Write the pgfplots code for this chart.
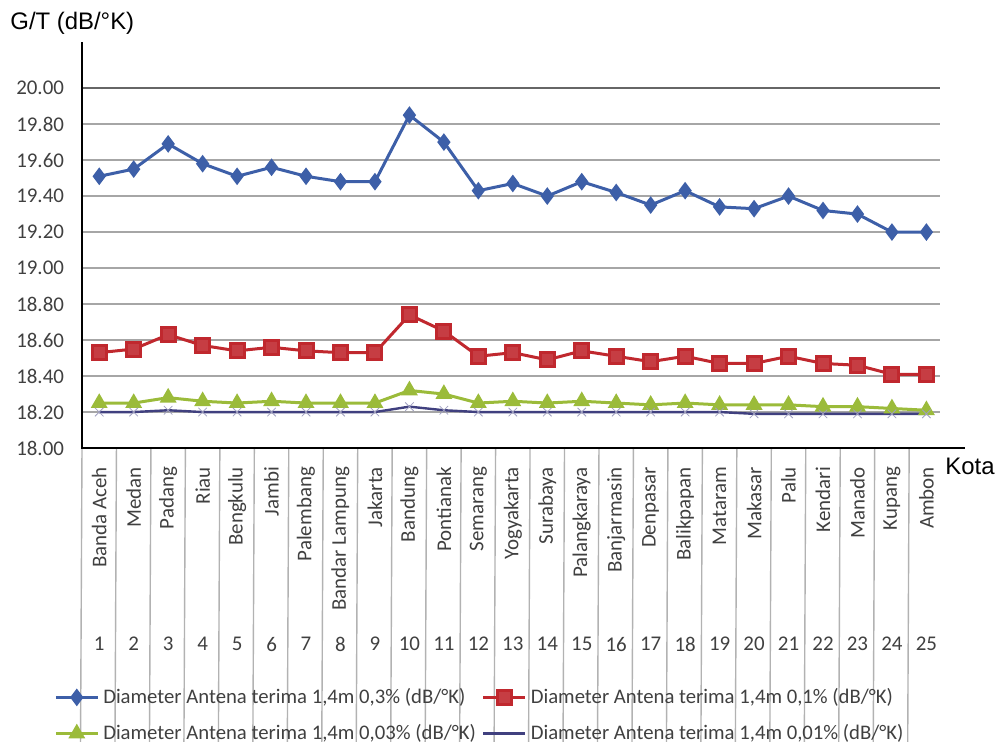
\documentclass[border=0pt]{standalone}
\usepackage{pgfplots}
\pgfplotsset{compat=1.18}
\usepackage{fontspec}
\setmainfont{Carlito}
\newfontfamily\arial{Liberation Sans}
\definecolor{sblue}{HTML}{3D5FA8}
\definecolor{sred}{HTML}{C0282E}
\definecolor{sgreen}{HTML}{9BBB3A}
\definecolor{spurple}{HTML}{40407F}
\definecolor{ticktext}{HTML}{404040}
\definecolor{gridc}{HTML}{A6A6A6}
\begin{document}
\begin{tikzpicture}
\begin{axis}[
  at={(0,0)}, anchor=south west,
  scale only axis, width=441.5bp, height=203bp,
  xmin=0.5, xmax=26.12, ymin=18, ymax=20.256,
  axis line style={draw=none},
  major tick length=0,
  clip=false,
  ytick={18,18.2,18.4,18.6,18.8,19,19.2,19.4,19.6,19.8,20},
  yticklabels={18.00,18.20,18.40,18.60,18.80,19.00,19.20,19.40,19.60,19.80,20.00},
  yticklabel style={font=\fontsize{10.5}{12}\selectfont, text=ticktext, xshift=-5.5bp},
  xtick={1,...,25},
  xticklabels={Banda Aceh,Medan,Padang,Riau,Bengkulu,Jambi,Palembang,Bandar Lampung,Jakarta,Bandung,Pontianak,Semarang,Yogyakarta,Surabaya,Palangkaraya,Banjarmasin,Denpasar,Balikpapan,Mataram,Makasar,Palu,Kendari,Manado,Kupang,Ambon},
  xticklabel style={yshift=-6bp, rotate=90, anchor=east, font=\fontsize{10.5}{12}\selectfont, text=ticktext},
  legend columns=2,
  legend cell align=left,
  legend style={at={(-0.0318,-0.581)}, anchor=north west, draw=none, fill=none, inner sep=0pt,
    font=\fontsize{10.4}{12}\selectfont, text=ticktext, column sep=0bp, row sep=5bp},
  /tikz/every even column/.append style={column sep=1bp},
  legend image code/.code={\draw[mark repeat=2,mark phase=2,#1] plot coordinates {(0cm,0cm) (0.37cm,0cm) (0.74cm,0cm)};},
]
% grid lines
\pgfplotsinvokeforeach{18.2,18.4,18.6,18.8,19,19.2,19.4,19.6,19.8}{
  \draw[gridc, line width=0.9bp] (axis cs:0.5,#1) -- (axis cs:25.4,#1);
}
\draw[gray!80!black, line width=1.2bp] (axis cs:0.5,20) -- (axis cs:25.4,20);
% category dividers
\pgfplotsinvokeforeach{0.5,1.5,...,24.5}{
  \draw[gray!60, line width=0.7bp] (axis cs:#1,18) -- ++(0,-110bp);
}
% numbers row
\pgfplotsinvokeforeach{1,...,25}{
  \node[font=\fontsize{10.5}{12}\selectfont, text=ticktext] at (axis cs:#1,18) [yshift=-98bp] {#1};
}
% axis lines
\draw[black, line width=1.1bp] (axis cs:0.5,20.256) -- (axis cs:0.5,18) -- (axis cs:26.12,18);

\addplot[sblue, line width=1.5bp, mark=diamond*, mark size=3.2bp, mark options={fill=sblue}] coordinates {
(1,19.51)(2,19.55)(3,19.69)(4,19.58)(5,19.51)(6,19.56)(7,19.51)(8,19.48)(9,19.48)(10,19.85)
(11,19.70)(12,19.43)(13,19.47)(14,19.40)(15,19.48)(16,19.42)(17,19.35)(18,19.43)(19,19.34)(20,19.33)
(21,19.40)(22,19.32)(23,19.30)(24,19.20)(25,19.20)};
\addlegendentry{Diameter Antena terima 1,4m 0,3\% (dB/°K)}

\addplot[sred, line width=1.5bp, mark=square*, mark size=3.5bp, mark options={fill=sred!90!white}] coordinates {
(1,18.53)(2,18.55)(3,18.63)(4,18.57)(5,18.54)(6,18.56)(7,18.54)(8,18.53)(9,18.53)(10,18.74)
(11,18.65)(12,18.51)(13,18.53)(14,18.49)(15,18.54)(16,18.51)(17,18.48)(18,18.51)(19,18.47)(20,18.47)
(21,18.51)(22,18.47)(23,18.46)(24,18.41)(25,18.41)};
\addlegendentry{Diameter Antena terima 1,4m 0,1\% (dB/°K)}

\addplot[sgreen, line width=1.5bp, mark=triangle*, mark size=3.4bp, mark options={fill=sgreen}] coordinates {
(1,18.25)(2,18.25)(3,18.28)(4,18.26)(5,18.25)(6,18.26)(7,18.25)(8,18.25)(9,18.25)(10,18.32)
(11,18.30)(12,18.25)(13,18.26)(14,18.25)(15,18.26)(16,18.25)(17,18.24)(18,18.25)(19,18.24)(20,18.24)
(21,18.24)(22,18.23)(23,18.23)(24,18.22)(25,18.21)};
\addlegendentry{Diameter Antena terima 1,4m 0,03\% (dB/°K)}

\addplot[spurple!50, only marks, mark=x, mark size=3bp, forget plot] coordinates {
(1,18.20)(2,18.20)(3,18.21)(4,18.20)(5,18.20)(6,18.20)(7,18.20)(8,18.20)(9,18.20)(10,18.23)
(11,18.21)(12,18.20)(13,18.20)(14,18.20)(15,18.20)(16,18.20)(17,18.20)(18,18.20)(19,18.20)(20,18.19)
(21,18.19)(22,18.19)(23,18.19)(24,18.19)(25,18.19)};
\addplot[spurple, line width=1.2bp, no marks] coordinates {
(1,18.20)(2,18.20)(3,18.21)(4,18.20)(5,18.20)(6,18.20)(7,18.20)(8,18.20)(9,18.20)(10,18.23)
(11,18.21)(12,18.20)(13,18.20)(14,18.20)(15,18.20)(16,18.20)(17,18.20)(18,18.20)(19,18.20)(20,18.19)
(21,18.19)(22,18.19)(23,18.19)(24,18.19)(25,18.19)};
\addlegendentry{Diameter Antena terima 1,4m 0,01\% (dB/°K)}
\end{axis}
\node[anchor=west, inner sep=0pt, font=\arial\fontsize{12}{14}\selectfont] at (-36bp,212.5bp) {G/T (dB/°K)};
\node[anchor=west, inner sep=0pt, font=\arial\fontsize{12}{14}\selectfont] at (431.5bp,-9bp) {Kota};
\pgfresetboundingbox
\path[use as bounding box] (-41bp,-147bp) rectangle (457.5bp,224bp);
\end{tikzpicture}
\end{document}
